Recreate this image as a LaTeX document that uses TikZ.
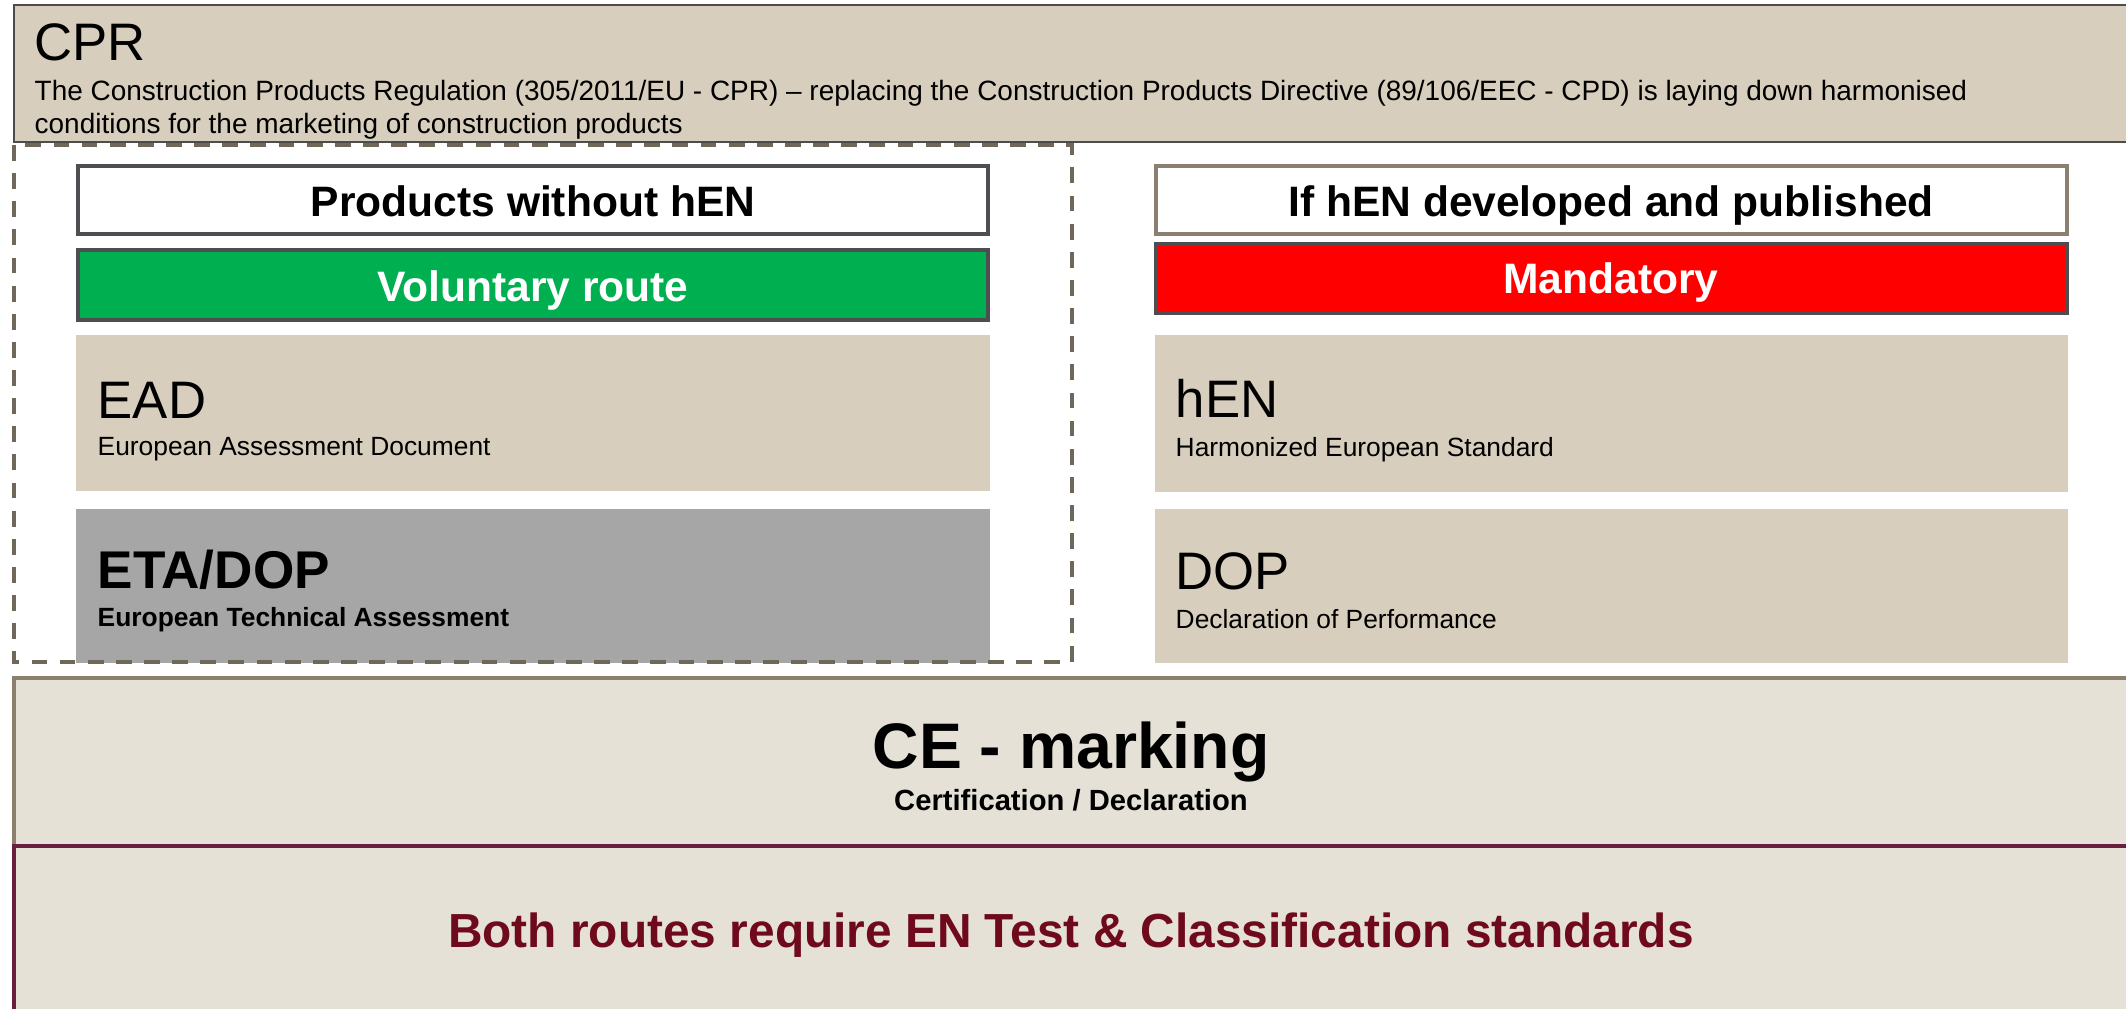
\documentclass[tikz,border=0pt]{standalone}
\usepackage{fontspec}
\setmainfont{Liberation Sans}

\definecolor{cprtan}{HTML}{D7CEBD}
\definecolor{celight}{HTML}{E5E1D6}
\definecolor{routegreen}{HTML}{00B050}
\definecolor{etagray}{HTML}{A6A6A6}
\definecolor{darkframe}{HTML}{4E4E52}
\definecolor{brownframe}{HTML}{8B8070}
\definecolor{maroonline}{HTML}{6B1E3E}
\definecolor{maroontext}{HTML}{6E0A1C}

\tikzset{
    banner/.style={fill=cprtan, draw=gray!60!black, line width=0.6pt},
    hdrbox/.style={fill=white, draw=darkframe, line width=1.4pt},
    routebox/.style={draw=darkframe, line width=1.4pt},
    docbox/.style={fill=cprtan, draw=none},
    hdrtext/.style={font=\fontsize{12.1}{14}\selectfont\bfseries, inner sep=0pt, anchor=base},
    bigtext/.style={font=\fontsize{15}{18}\selectfont, inner sep=0pt, anchor=base west},
    smalltext/.style={font=\fontsize{7.5}{9}\selectfont, inner sep=0pt, anchor=base west},
}

\begin{document}
\begin{tikzpicture}[x=0.01cm, y=-0.01cm]

    % page
    \clip (0,0) rectangle (2126,1008);
    \fill[white] (0,0) rectangle (2126,1008);

    % top banner
    \draw[banner] (14,5) rectangle (2140,142);
    \node[bigtext] (cpr) at (34,60) {CPR};
    \node[smalltext, font=\fontsize{7.95}{9}\selectfont] (cprline1) at (34,100) {The Construction Products Regulation (305/2011/EU - CPR) -- replacing the Construction Products Directive (89/106/EEC - CPD) is laying down harmonised};
    \node[smalltext, font=\fontsize{7.95}{9}\selectfont] (cprline2) at (34,133) {conditions for the marketing of construction products};

    % left route
    \draw[hdrbox] (78,166) rectangle (988,234);
    \node[hdrtext] (nohen) at (533,216) {Products without hEN};
    \draw[routebox, fill=routegreen] (78,250) rectangle (988,320);
    \node[hdrtext, text=white] (voluntary) at (533,301) {Voluntary route};
    \draw[docbox] (76,335) rectangle (990,491);
    \node[bigtext] (ead) at (97,418) {EAD};
    \node[smalltext] (eadsub) at (97,455) {European Assessment Document};
    \draw[fill=etagray, draw=none] (76,509) rectangle (990,663);
    \node[bigtext, font=\fontsize{15.1}{18}\selectfont\bfseries] (eta) at (97,588) {ETA/DOP};
    \node[smalltext, font=\fontsize{7.5}{9}\selectfont\bfseries] (etasub) at (97,626) {European Technical Assessment};

    % dashed frame round left route
    \draw[brownframe!80!black, line width=0.9pt, dash pattern=on 4.5pt off 3.5pt] (14,145) rectangle (1072,662);

    % right route
    \draw[hdrbox, draw=brownframe] (1156,166) rectangle (2067,234);
    \node[hdrtext] (withhen) at (1611,216) {If hEN developed and published};
    \draw[routebox, fill=red] (1156,244) rectangle (2067,313);
    \node[hdrtext, text=white] (mandatory) at (1611,293) {Mandatory};
    \draw[docbox] (1155,335) rectangle (2068,492);
    \node[bigtext] (hen) at (1175,417) {hEN};
    \node[smalltext] (hensub) at (1175,456) {Harmonized European Standard};
    \draw[docbox] (1155,509) rectangle (2068,663);
    \node[bigtext] (dop) at (1175,589) {DOP};
    \node[smalltext] (dopsub) at (1175,628) {Declaration of Performance};

    % CE marking
    \draw[fill=celight, draw=brownframe, line width=1.2pt] (14,678) rectangle (2140,1020);
    \node[font=\fontsize{18.3}{22}\selectfont\bfseries, inner sep=0pt, anchor=base] (ce) at (1071,768) {CE - marking};
    \node[font=\fontsize{8.3}{10}\selectfont\bfseries, inner sep=0pt, anchor=base] (cesub) at (1071,810) {Certification / Declaration};

    % test standards
    \draw[fill=celight, draw=maroonline, line width=1.2pt] (14,846) rectangle (2140,1020);
    \node[font=\fontsize{13.6}{16}\selectfont\bfseries, text=maroontext, inner sep=0pt, anchor=base] (both) at (1071,947) {Both routes require EN Test \& Classification standards};

\end{tikzpicture}
\end{document}
